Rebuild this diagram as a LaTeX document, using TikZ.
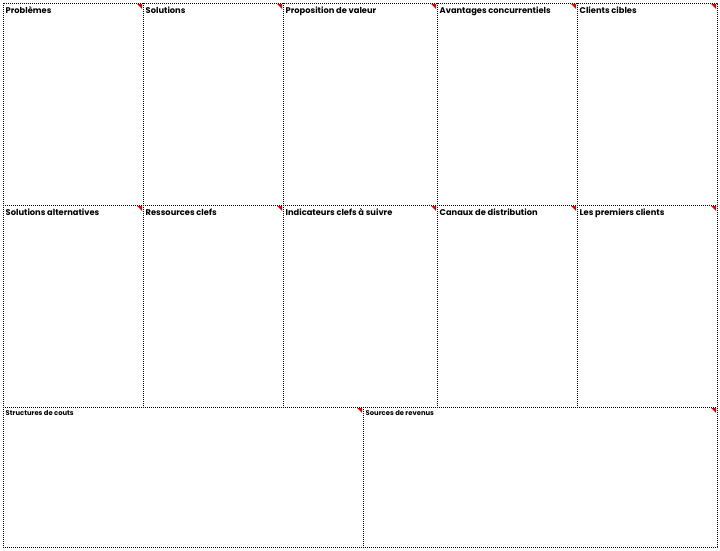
\documentclass[tikz,border=0pt]{standalone}
\usepackage{fontspec}
\setmainfont{Poppins}
\usetikzlibrary{calc}
\begin{document}
\begin{tikzpicture}[x=1pt,y=-1pt,
  grid/.style={draw=black, line width=0.8pt, dash pattern=on 0.8pt off 1.2pt},
  lbl/.style={anchor=north west, inner sep=0pt, font=\fontsize{8.3}{10}\selectfont\bfseries, text=black},
  slbl/.style={anchor=north west, inner sep=0pt, font=\fontsize{6.8}{8}\selectfont\bfseries, text=black},
  flag/.style={fill=red!85!black, draw=none}]
\useasboundingbox (0,0) rectangle (720,551);
% grid lines, each drawn once
\draw[grid] (3,3) rectangle (717,547);
\draw[grid] (3,205) -- (717,205);
\draw[grid] (3,407) -- (717,407);
\foreach \x in {143,283,437,577} \draw[grid] (\x,3) -- (\x,407);
\draw[grid] (363,407) -- (363,547);
\newcommand{\cellbox}[5]{% name, x1,y1,x2,label
  \coordinate (#1c) at (#4,#3);
  \node[lbl] (#1) at (#2+2.5,#3+3.5) {#5};
  \fill[flag] ($(#1c)+(-6,1)$) -- ($(#1c)+(-1,1)$) -- ($(#1c)+(-1,6)$) -- cycle;
}
\cellbox{a1}{3}{3}{143}{Problèmes}
\cellbox{a2}{143}{3}{283}{Solutions}
\cellbox{a3}{283}{3}{437}{Proposition de valeur}
\cellbox{a4}{437}{3}{577}{Avantages concurrentiels}
\cellbox{a5}{577}{3}{717}{Clients cibles}
\cellbox{b1}{3}{205}{143}{Solutions alternatives}
\cellbox{b2}{143}{205}{283}{Ressources clefs}
\cellbox{b3}{283}{205}{437}{Indicateurs clefs à suivre}
\cellbox{b4}{437}{205}{577}{Canaux de distribution}
\cellbox{b5}{577}{205}{717}{Les premiers clients}
\node[slbl] (c1) at (5.5,410) {Structures de couts};
\coordinate (c2c) at (717,407);
\node[slbl] (c2) at (365.5,410) {Sources de revenus};
\fill[flag] ($(c2c)+(-6,1)$) -- ($(c2c)+(-1,1)$) -- ($(c2c)+(-1,6)$) -- cycle;
\coordinate (c1c) at (363,407);
\fill[flag] ($(c1c)+(-6,1)$) -- ($(c1c)+(-1,1)$) -- ($(c1c)+(-1,6)$) -- cycle;
\end{tikzpicture}
\end{document}
